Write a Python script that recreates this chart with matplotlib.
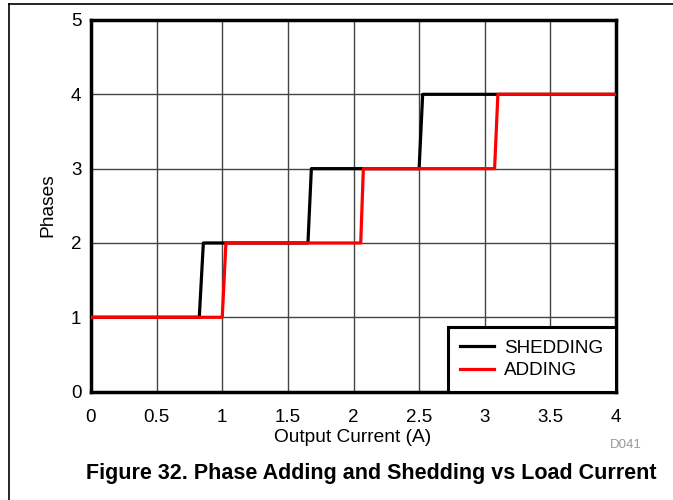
import matplotlib
matplotlib.use("Agg")
import matplotlib.pyplot as plt
from matplotlib.lines import Line2D

plt.rcParams["font.family"] = ["Liberation Sans", "DejaVu Sans"]

# step curves (current in A, phase count)
shed_x = [0.0, 0.825, 0.856, 1.653, 1.679, 2.50, 2.527, 4.0]
shed_y = [1, 1, 2, 2, 3, 3, 4, 4]
add_x = [0.0, 1.0, 1.028, 2.055, 2.075, 3.075, 3.10, 4.0]
add_y = [1, 1, 2, 2, 3, 3, 4, 4]

xticks = [0, 0.5, 1, 1.5, 2, 2.5, 3, 3.5, 4]
xticklabels = ["0", "0.5", "1", "1.5", "2", "2.5", "3", "3.5", "4"]
yticks = [0, 1, 2, 3, 4, 5]

W, H = 673, 500
fig = plt.figure(figsize=(W / 100, H / 100), dpi=100)
ax = fig.add_axes([91 / W, 1 - 391.6 / H, (616 - 91) / W, (391.6 - 20) / H])

ax.plot(shed_x, shed_y, color="black", lw=2.3, label="SHEDDING", zorder=3)
ax.plot(add_x, add_y, color="#ff0000", lw=2.3, label="ADDING", zorder=4)

ax.set_xlim(0, 4)
ax.set_ylim(0, 5)
ax.set_xticks(xticks)
ax.set_xticklabels(xticklabels)
ax.set_yticks(yticks)
ax.tick_params(axis="both", length=0, labelsize=13.5)
ax.tick_params(axis="x", pad=12.5)
ax.tick_params(axis="y", pad=7)
ax.grid(True, color="#444444", lw=1)
ax.set_axisbelow(True)
for s in ax.spines.values():
    s.set_linewidth(2.5)

leg = ax.legend(loc="lower right", borderaxespad=0, fontsize=13.6, frameon=True,
                fancybox=False, framealpha=1, edgecolor="black",
                handlelength=1.8, handletextpad=0.55, labelspacing=0.26,
                borderpad=0.66)
leg.get_frame().set_linewidth(2.2)
leg.set_zorder(5)

fig.text(353 / W, 1 - 437 / H, "Output Current (A)", ha="center", va="center", fontsize=13.8)
fig.text(48 / W, 1 - 205 / H, "Phases", ha="center", va="center", rotation=90, fontsize=13.8)
fig.text(626 / W, 1 - 445 / H, "D041", ha="center", va="center", fontsize=9.5, color="#999999")
fig.text(86 / W, 1 - 474 / H, "Figure 32. Phase Adding and Shedding vs Load Current",
         ha="left", va="center", fontsize=15.5, fontweight="bold")

# page frame lines (top and left)
fig.add_artist(Line2D([8.6 / W, 1], [1 - 4 / H, 1 - 4 / H], color="black", lw=1.2))
fig.add_artist(Line2D([8.6 / W, 8.6 / W], [0, 1 - 4 / H], color="black", lw=1.2))

fig.savefig("out.png", dpi=100)
